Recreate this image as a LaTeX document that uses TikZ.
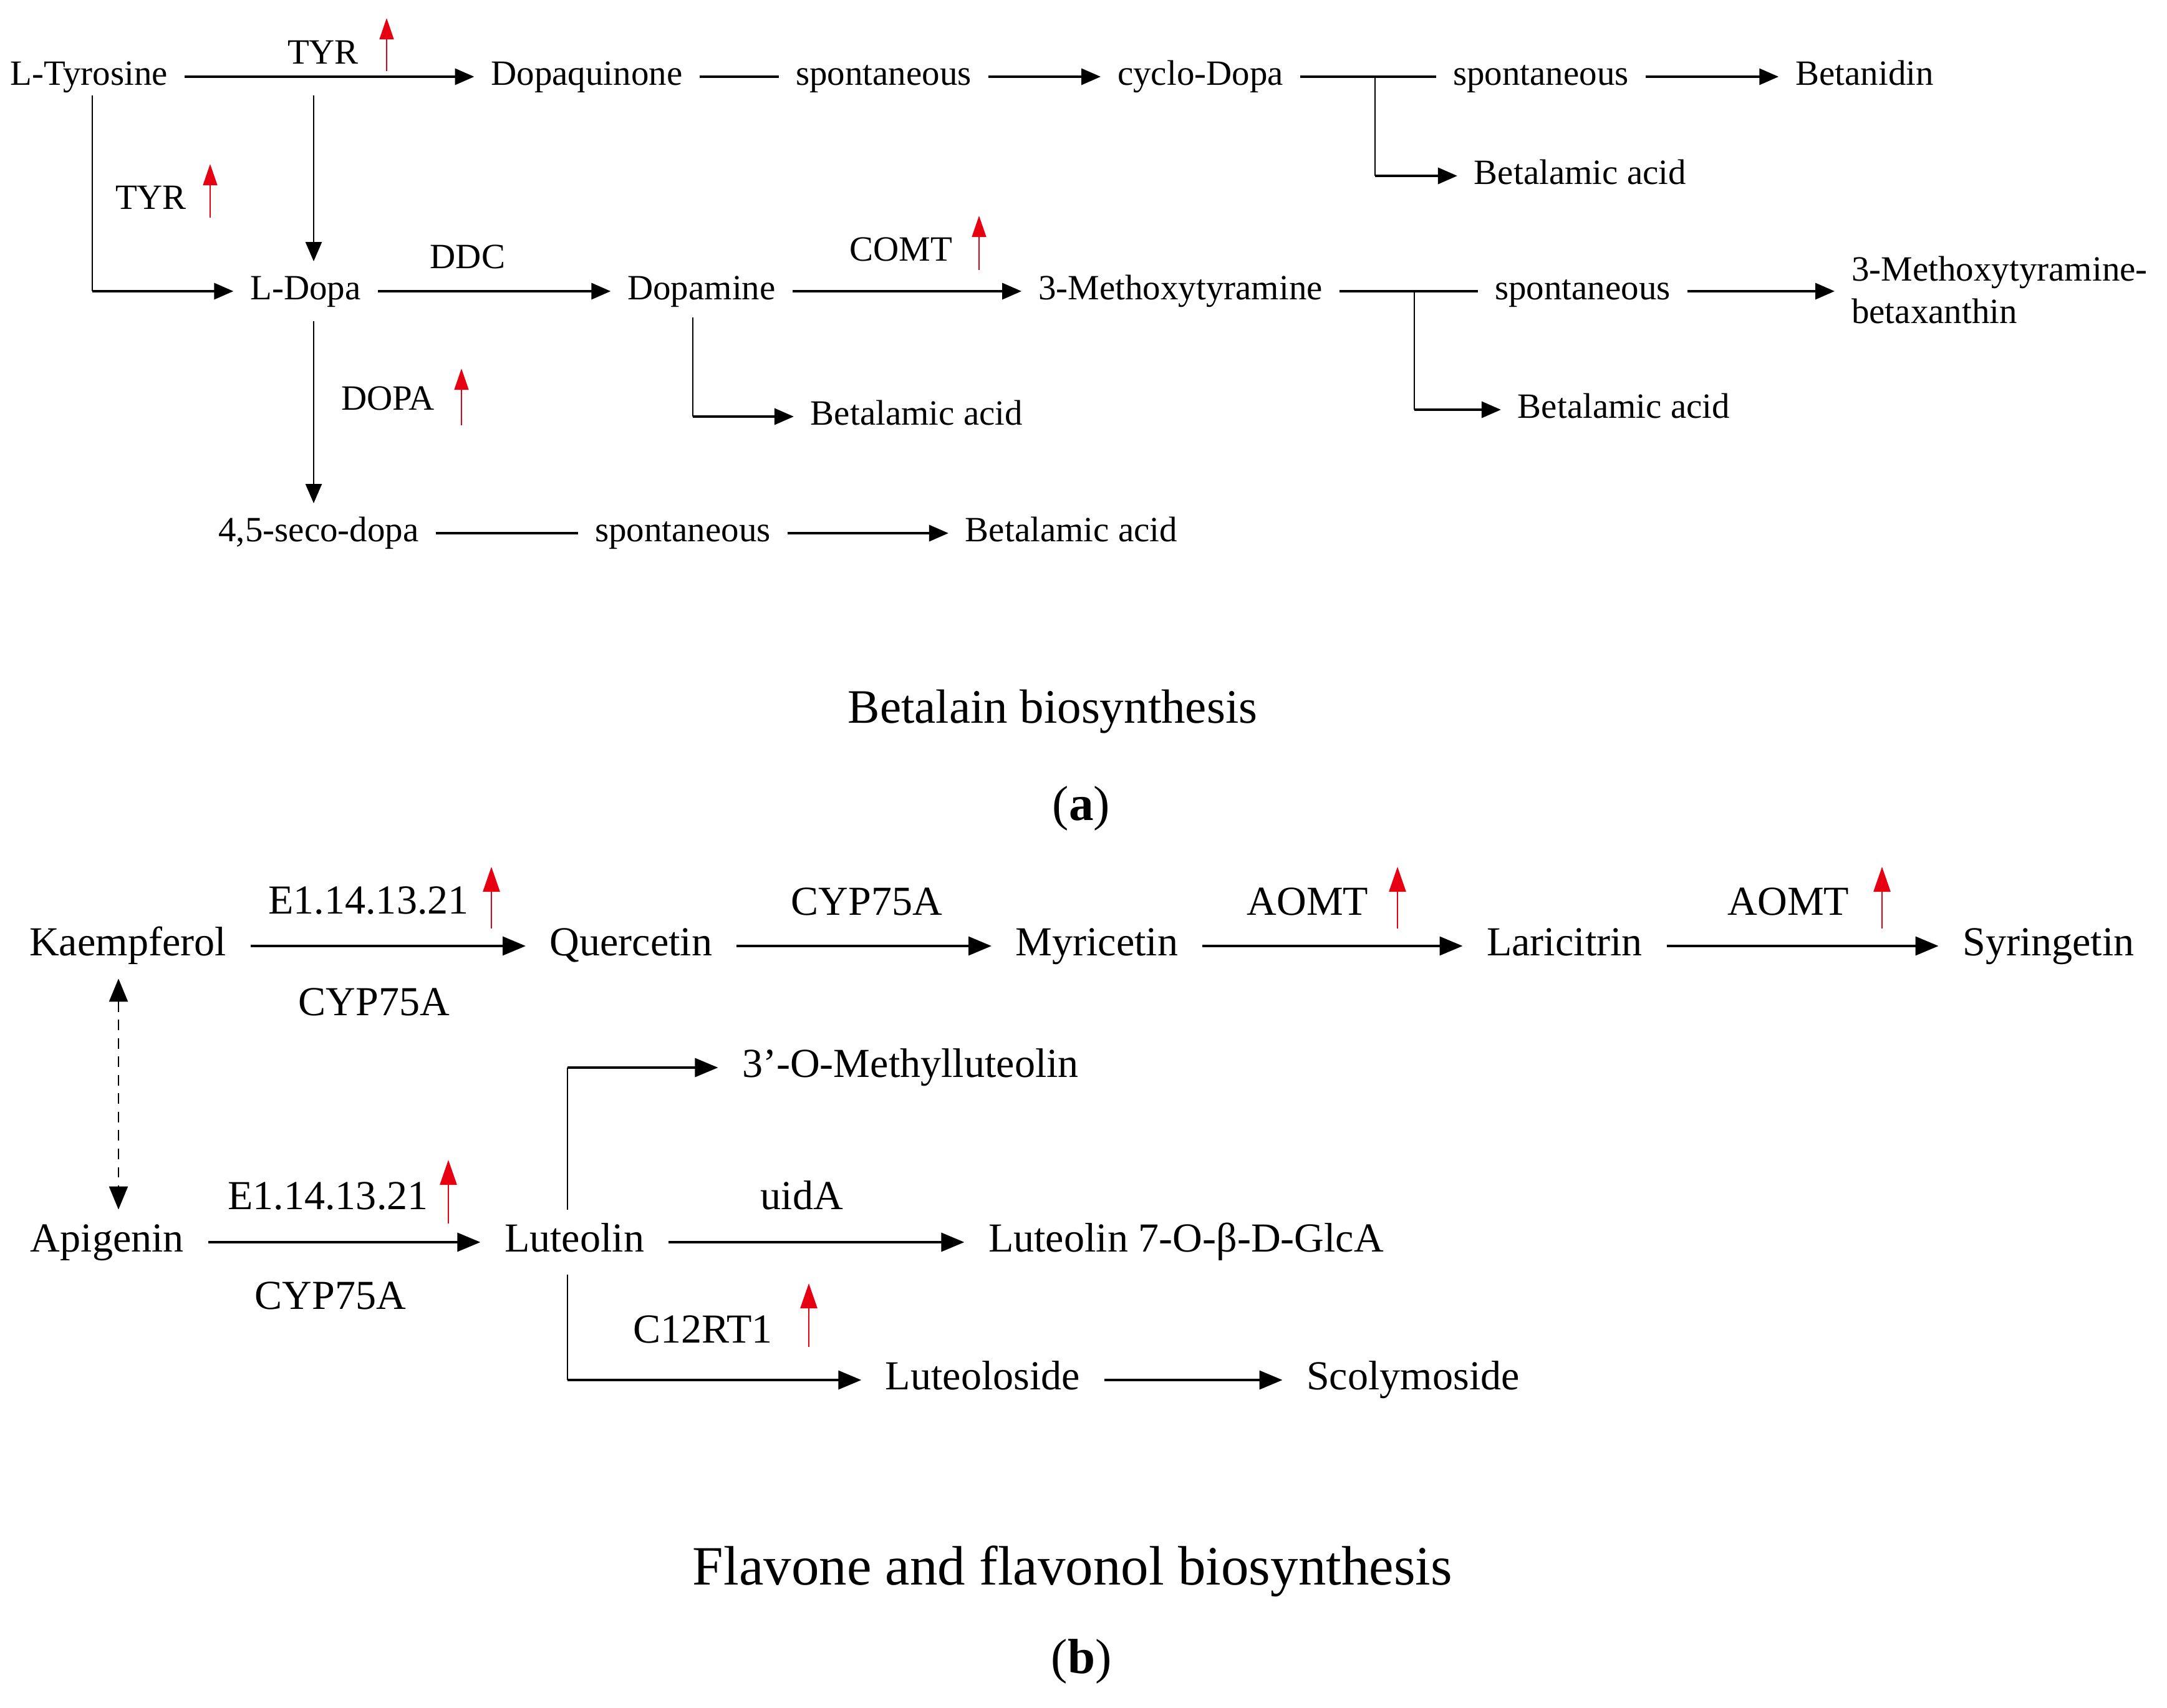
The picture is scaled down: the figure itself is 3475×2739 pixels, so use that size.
\documentclass[tikz,border=0pt]{standalone}
\usepackage{fontspec}
\setmainfont{Liberation Serif}
\usetikzlibrary{arrows.meta}
\definecolor{upred}{RGB}{230,0,18}
\newcommand{\upmark}[5][reda]{\coordinate (#2a) at (#3,#4); \coordinate (#2b) at (#3,#5); \draw[#1] (#2a) -- (#2b);}
\begin{document}
\begin{tikzpicture}[x=0.01cm,y=-0.01cm,
 fa/.style={font=\fontsize{16.2pt}{19.6pt}\selectfont},
 fb/.style={font=\fontsize{18.8pt}{22.6pt}\selectfont},
 na/.style={fa, inner xsep=7.5pt, inner ysep=0.2cm, text height=11.5pt, text depth=4pt},
 nb/.style={fb, inner xsep=10.8pt, inner ysep=0.2cm, text height=13.3pt, text depth=4.7pt},
 hla/.style={line width=1pt},
 harra/.style={hla, -{Triangle[length=8.8pt,width=7.4pt]}},
 vla/.style={line width=0.65pt},
 varra/.style={vla, -{Triangle[length=8.8pt,width=7.4pt]}},
 hlb/.style={line width=1.1pt},
 harrb/.style={hlb, -{Triangle[length=10.5pt,width=8.5pt]}},
 vlb/.style={line width=0.8pt},
 dasharr/.style={line width=0.7pt, dash pattern=on 4.8pt off 3.6pt, {Triangle[length=10.5pt,width=8.5pt]}-{Triangle[length=10.5pt,width=8.5pt]}},
 reda/.style={upred, line width=0.6pt, -{Triangle[length=9.7pt,width=6.5pt]}},
 redb/.style={upred, line width=0.7pt, -{Triangle[length=11.4pt,width=7.7pt]}},
 ttl/.style={inner sep=0pt}
]
\fill[white] (0,0) rectangle (3475,2739);
\useasboundingbox (0,0) rectangle (3475,2739);

% ---------- (a) Betalain ----------
\node[na] (ltyr) at (143,123) {L-Tyrosine};
\node[na] (dopaq) at (941,123) {Dopaquinone};
\node[na] (sp1) at (1417,123) {spontaneous};
\node[na] (cyclo) at (1925,123) {cyclo-Dopa};
\node[na] (sp2) at (2471,123) {spontaneous};
\node[na] (betan) at (2990,123) {Betanidin};
\node[na] (ba1) at (2534,282) {Betalamic acid};
\node[na] (ldopa) at (490,467) {L-Dopa};
\node[na] (dopam) at (1125,467) {Dopamine};
\node[na] (mt) at (1893,467) {3-Methoxytyramine};
\node[na] (sp3) at (2538,467) {spontaneous};
\node[fa, inner xsep=7.5pt, inner ysep=0.2cm, align=left, anchor=west] (mtb) at (2942,465) {3-Methoxytyramine-\\betaxanthin};
\node[na] (ba2) at (1470,668) {Betalamic acid};
\node[na] (ba3) at (2604,657) {Betalamic acid};
\node[na] (seco) at (511,855) {4,5-seco-dopa};
\node[na] (sp4) at (1095,855) {spontaneous};
\node[na] (ba4) at (1718,855) {Betalamic acid};

\node[na] (tyr1) at (518,89) {TYR};
\node[na] (tyr2) at (242,322) {TYR};
\node[na] (ddc) at (750,417) {DDC};
\node[na] (comt) at (1445,405) {COMT};
\node[na] (dopal) at (622,644) {DOPA};

\upmark[reda]{ra1}{620}{114}{29}
\upmark[reda]{ra2}{337}{349}{263}
\upmark[reda]{ra3}{1570}{433}{346}
\upmark[reda]{ra4}{740}{682}{591}

\draw[harra] (ltyr) -- (dopaq);
\draw[hla] (dopaq) -- (sp1);
\draw[harra] (sp1) -- (cyclo);
\draw[hla] (cyclo) -- (sp2);
\draw[harra] (sp2) -- (betan);
\coordinate (jc) at (2205,123);
\draw[vla] (jc) -- (jc |- ba1);
\draw[harra] (jc |- ba1) -- (ba1);

\coordinate (jt) at (148,153);
\coordinate (jd) at (503,153);
\draw[vla] (jt) -- (jt |- ldopa);
\draw[harra] (jt |- ldopa) -- (ldopa);
\draw[varra] (jd) -- (jd |- ldopa.north);
\draw[harra] (ldopa) -- (dopam);
\draw[harra] (dopam) -- (mt);
\coordinate (jdm) at (1111,509);
\draw[vla] (jdm) -- (jdm |- ba2);
\draw[harra] (jdm |- ba2) -- (ba2);
\draw[hla] (mt) -- (sp3);
\draw[harra] (sp3) -- (sp3 -| mtb.west);
\coordinate (jm) at (2268,467);
\draw[vla] (jm) -- (jm |- ba3);
\draw[harra] (jm |- ba3) -- (ba3);
\draw[varra] (jd |- ldopa.south) -- (jd |- seco.north);
\draw[hla] (seco) -- (sp4);
\draw[harra] (sp4) -- (ba4);

\node[ttl, font=\fontsize{21.9pt}{26pt}\selectfont] (ta) at (1688,1141) {Betalain biosynthesis};
\node[ttl, font=\fontsize{22.5pt}{27pt}\selectfont] (pa) at (1734,1296) {(\textbf{a})};

% ---------- (b) Flavone / flavonol ----------
\node[nb] (kaemp) at (205,1517) {Kaempferol};
\node[nb] (quer) at (1012,1517) {Quercetin};
\node[nb] (myr) at (1759,1517) {Myricetin};
\node[nb] (lar) at (2509,1517) {Laricitrin};
\node[nb] (syr) at (3285,1517) {Syringetin};
\node[nb] (apig) at (172,1992) {Apigenin};
\node[nb] (lut) at (921,1992) {Luteolin};
\node[nb] (meth) at (1460,1712) {3’-O-Methylluteolin};
\node[nb] (glca) at (1902,1992) {Luteolin 7-O-β-D-GlcA};
\node[nb] (luteol) at (1576,2213) {Luteoloside};
\node[nb] (scoly) at (2266,2213) {Scolymoside};

\node[nb] (e1) at (591,1450) {E1.14.13.21};
\node[nb] (cyp1) at (600,1613) {CYP75A};
\node[nb] (cyp2) at (1390,1452) {CYP75A};
\node[nb] (aomt1) at (2097,1452) {AOMT};
\node[nb] (aomt2) at (2868,1452) {AOMT};
\node[nb] (e2) at (526,1924) {E1.14.13.21};
\node[nb] (cyp3) at (530,2084) {CYP75A};
\node[nb] (uida) at (1286,1924) {uidA};
\node[nb] (c12) at (1127,2138) {C12RT1};

\upmark[redb]{rb1}{788}{1489}{1390}
\upmark[redb]{rb2}{2241}{1489}{1390}
\upmark[redb]{rb3}{3018}{1489}{1390}
\upmark[redb]{rb4}{719}{1962}{1860}
\upmark[redb]{rb5}{1297}{2160}{2058}

\draw[harrb] (kaemp) -- (quer);
\draw[harrb] (quer) -- (myr);
\draw[harrb] (myr) -- (lar);
\draw[harrb] (lar) -- (syr);
\coordinate (dx) at (190,1750);
\draw[dasharr] (kaemp.south -| dx) -- (apig.north -| dx);
\draw[harrb] (apig) -- (lut);
\coordinate (lx) at (910,1992);
\draw[vlb] (lut.north -| lx) -- (lx |- meth);
\draw[harrb] (lx |- meth) -- (meth);
\draw[harrb] (lut) -- (glca);
\draw[vlb] (lut.south -| lx) -- (lx |- luteol);
\draw[harrb] (lx |- luteol) -- (luteol);
\draw[harrb] (luteol) -- (scoly);

\node[ttl, font=\fontsize{25.3pt}{30pt}\selectfont] (tb) at (1720,2520) {Flavone and flavonol biosynthesis};
\node[ttl, font=\fontsize{22.5pt}{27pt}\selectfont] (pb) at (1734,2664) {(\textbf{b})};
\end{tikzpicture}
\end{document}
